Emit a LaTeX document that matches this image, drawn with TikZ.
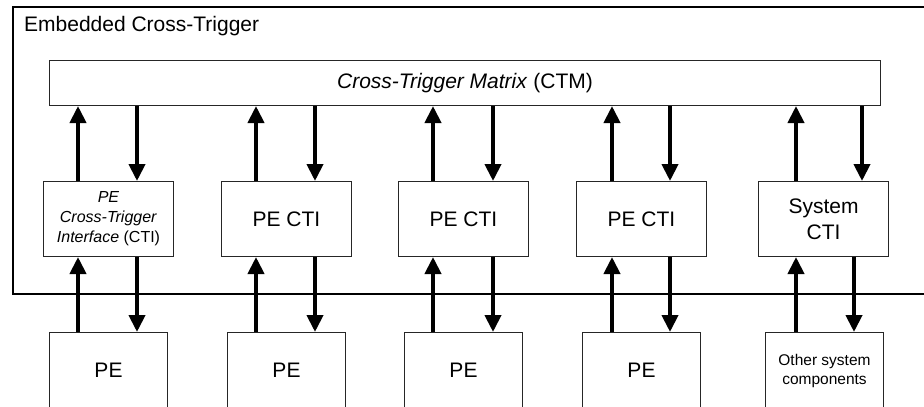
\documentclass[tikz,border=0pt]{standalone}
\usepackage{fontspec}
\setmainfont{Liberation Sans}
\usetikzlibrary{arrows.meta}
\begin{document}
\begin{tikzpicture}[x=1pt,y=-1pt,
  blk/.style={draw=black!85,line width=1pt,inner sep=0pt,anchor=north west,
    font=\fontsize{21}{26}\selectfont,align=center},
  ctibox/.style={blk,minimum width=130pt,minimum height=75pt},
  pebox/.style={blk,minimum width=118pt,minimum height=76pt},
  arr/.style={line width=4pt,-{Triangle[length=17pt,width=16pt]}}]
\useasboundingbox (0,0) rectangle (924,407);
\clip (0,0) rectangle (924,407);
% outer frame (runs off the right edge)
\draw[line width=2pt] (13,7) rectangle (960,294);
\node[anchor=base west,inner sep=0pt,font=\fontsize{21}{25}\selectfont] (title) at (24,31) {Embedded Cross-Trigger};
% CTM
\node[blk,minimum width=831pt,minimum height=45pt] (ctm) at (49,60) {\textit{Cross-Trigger Matrix} (CTM)};
% CTIs
\node[ctibox,font=\fontsize{16}{20}\selectfont] (cti1) at (43,181) {\textit{PE}\\\textit{Cross-Trigger}\\\textit{Interface} (CTI)};
\node[ctibox] (cti2) at (221,181) {PE CTI};
\node[ctibox] (cti3) at (398,181) {PE CTI};
\node[ctibox] (cti4) at (576,181) {PE CTI};
\node[ctibox] (cti5) at (758,181) {System\\CTI};
% PEs
\node[pebox] (pe1) at (49,332) {PE};
\node[pebox] (pe2) at (227,332) {PE};
\node[pebox] (pe3) at (404,332) {PE};
\node[pebox] (pe4) at (582,332) {PE};
\node[pebox,font=\fontsize{15.5}{19}\selectfont] (pe5) at (765,332) {Other system\\components};
% arrow x positions
\foreach \i/\u/\d in {1/78/137,2/256/315,3/433/493,4/612/670}{
  \coordinate (u\i) at (\u,0);
  \coordinate (d\i) at (\d,0);
  \draw[arr] (pe\i.north -| u\i) -- (cti\i.south -| u\i);
  \draw[arr] (cti\i.south -| d\i) -- (pe\i.north -| d\i);
  \draw[arr] (cti\i.north -| u\i) -- (ctm.south -| u\i);
  \draw[arr] (ctm.south -| d\i) -- (cti\i.north -| d\i);
}
\coordinate (u5) at (796,0);
\coordinate (d5t) at (862,0);
\coordinate (d5b) at (854,0);
\draw[arr] (pe5.north -| u5) -- (cti5.south -| u5);
\draw[arr] (cti5.south -| d5b) -- (pe5.north -| d5b);
\draw[arr] (cti5.north -| u5) -- (ctm.south -| u5);
\draw[arr] (ctm.south -| d5t) -- (cti5.north -| d5t);
\end{tikzpicture}
\end{document}
